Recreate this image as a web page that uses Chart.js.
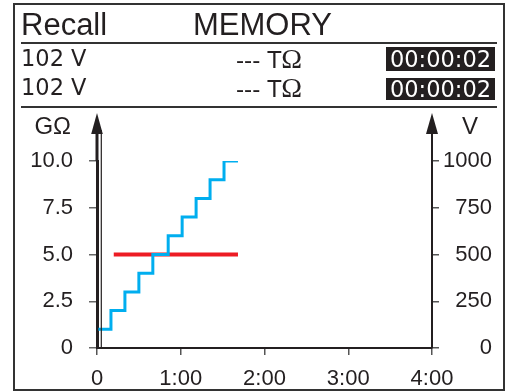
<!DOCTYPE html>
<html>
<head>
<meta charset="utf-8">
<script src="https://cdn.jsdelivr.net/npm/chart.js@4/dist/chart.umd.min.js"></script>
<style>
    html, body {
        margin: 0;
        padding: 0;
        background: #fff;
    }
    #screen {
        position: relative;
        width: 508px;
        height: 392px;
        overflow: hidden;
        color: #231f20;
    }
    #frame {
        position: absolute;
        left: 13px;
        top: 3px;
        width: 492px;
        height: 388px;
        box-sizing: border-box;
        border: 2px solid #333;
    }
    .rule {
        position: absolute;
        left: 21px;
        width: 476px;
        height: 2.5px;
        background: #333;
    }
    .txt {
        position: absolute;
        white-space: nowrap;
        line-height: 1;
    }
    .title {
        font-family: "Liberation Sans", Arial, sans-serif;
        font-size: 31px;
        top: 9px;
    }
    .row {
        font-family: "DejaVu Sans", sans-serif;
        font-size: 22.5px;
    }
    .ohm {
        font-family: "Liberation Serif", serif;
        font-size: 28px;
    }
    .clock {
        position: absolute;
        left: 386px;
        width: 109px;
        background: #231f20;
        color: #fff;
        font-family: "DejaVu Sans", sans-serif;
        font-size: 22.5px;
        text-align: center;
    }
    #chartBox {
        position: absolute;
        left: 0;
        top: 0;
        width: 508px;
        height: 392px;
    }
</style>
</head>
<body>
<div id="screen">
    <div id="chartBox"><canvas id="chart"></canvas></div>
    <div id="frame"></div>

    <div class="txt title" style="left:21px;">Recall</div>
    <div class="txt title" style="left:193px;">MEMORY</div>
    <div class="rule" style="top:41.5px;"></div>

    <div class="txt row" style="left:21px; top:47px;">102 V</div>
    <div class="txt row" style="left:236px; top:45px;">--- T<span class="ohm">Ω</span></div>
    <div class="clock" style="top:47px; height:24px; line-height:24px;">00:00:02</div>

    <div class="txt row" style="left:21px; top:76px;">102 V</div>
    <div class="txt row" style="left:236px; top:74px;">--- T<span class="ohm">Ω</span></div>
    <div class="clock" style="top:78px; height:22px; line-height:22px;">00:00:02</div>

    <div class="rule" style="top:105.5px;"></div>
</div>

<script>
// ==========================
// DATA
// ==========================

// time axis in seconds
const timeTicks = [0, 60, 120, 180, 240];
const resistanceTicks = [0, 2.5, 5, 7.5, 10];
const voltageTicks = [0, 250, 500, 750, 1000];

// insulation resistance (GΩ), stepped
const resistanceTimes = [1, 10, 20, 30, 40, 51, 61, 71, 81, 91, 101];
const resistanceValues = [1, 2, 3, 4, 5, 6, 7, 8, 9, 10, 10];

// test voltage (V)
const voltageTimes = [12, 101];
const voltageValues = [500, 500];

const ink = "#231f20";

Chart.defaults.font.family = "'Liberation Sans', Arial, sans-serif";
Chart.defaults.font.size = 22;
Chart.defaults.color = ink;


// ==========================
// AXIS ARROWS + UNITS
// ==========================

const axisDecor = {
    id: "axisDecor",
    afterDraw(chart) {
        const c = chart.ctx;
        const area = chart.chartArea;
        const tipY = 113;
        const baseY = 134;

        c.save();
        c.fillStyle = ink;
        c.strokeStyle = ink;

        // left axis extension + arrow
        c.lineWidth = 3;
        c.beginPath();
        c.moveTo(area.left, area.top);
        c.lineTo(area.left, baseY - 2);
        c.stroke();

        // thin second line beside the left axis
        c.lineWidth = 1.2;
        c.beginPath();
        c.moveTo(area.left + 4.3, baseY - 4);
        c.lineTo(area.left + 4.3, area.bottom);
        c.stroke();

        c.beginPath();
        c.moveTo(area.left, tipY);
        c.lineTo(area.left - 5.8, baseY);
        c.lineTo(area.left + 5.8, baseY);
        c.closePath();
        c.fill();

        // right axis extension + arrow
        c.lineWidth = 2;
        c.beginPath();
        c.moveTo(area.right, area.top);
        c.lineTo(area.right, baseY - 2);
        c.stroke();

        c.beginPath();
        c.moveTo(area.right, tipY);
        c.lineTo(area.right - 6, baseY);
        c.lineTo(area.right + 6, baseY);
        c.closePath();
        c.fill();

        // units
        c.font = "24px 'Liberation Sans', Arial, sans-serif";
        c.textBaseline = "alphabetic";
        c.textAlign = "right";
        c.fillText("GΩ", area.left - 26, baseY);
        c.textAlign = "left";
        c.fillText("V", area.right + 30, baseY);

        c.restore();
    }
};


// ==========================
// CHART
// ==========================

const ctx = document.getElementById("chart").getContext("2d");

new Chart(ctx, {
    type: "line",
    data: {
        datasets: [
            {
                data: resistanceTimes.map((t, i) => ({ x: t, y: resistanceValues[i] })),
                yAxisID: "y",
                borderColor: "#00aeef",
                borderWidth: 3,
                stepped: "before",
                pointRadius: 0,
                fill: false
            },
            {
                data: voltageTimes.map((t, i) => ({ x: t, y: voltageValues[i] })),
                yAxisID: "y1",
                borderColor: "#ed1c24",
                borderWidth: 4,
                pointRadius: 0,
                fill: false
            }
        ]
    },
    options: {
        responsive: true,
        maintainAspectRatio: false,
        animation: false,
        layout: {
            padding: { left: 30, right: 16, top: 161, bottom: 0 }
        },
        plugins: {
            legend: { display: false },
            tooltip: { enabled: false }
        },
        scales: {
            x: {
                type: "linear",
                min: 0,
                max: 240,
                afterBuildTicks: s => {
                    s.ticks = timeTicks.map(v => ({ value: v }));
                },
                afterFit: s => {
                    s.height = 44;
                },
                grid: {
                    drawOnChartArea: false,
                    tickLength: 7,
                    color: "#555",
                    lineWidth: 1.5
                },
                border: { color: ink, width: 2 },
                ticks: {
                    padding: 11,
                    maxRotation: 0,
                    callback: v => v === 0 ? "0" : (v / 60) + ":00"
                }
            },
            y: {
                position: "left",
                min: 0,
                max: 10,
                afterBuildTicks: s => {
                    s.ticks = resistanceTicks.map(v => ({ value: v }));
                },
                afterFit: s => {
                    s.width = 67;
                },
                grid: {
                    drawOnChartArea: false,
                    tickLength: 8,
                    color: "#666",
                    lineWidth: 1.5
                },
                border: { color: ink, width: 3 },
                ticks: {
                    padding: 16,
                    callback: v => v === 0 ? "0" : v.toFixed(1)
                }
            },
            y1: {
                position: "right",
                min: 0,
                max: 1000,
                afterBuildTicks: s => {
                    s.ticks = voltageTicks.map(v => ({ value: v }));
                },
                afterFit: s => {
                    s.width = 60;
                },
                grid: {
                    drawOnChartArea: false,
                    tickLength: 7,
                    color: "#555",
                    lineWidth: 1.5
                },
                border: { color: ink, width: 2 },
                ticks: {
                    padding: 4,
                    crossAlign: "far",
                    callback: v => String(v)
                }
            }
        }
    },
    plugins: [axisDecor]
});
</script>
</body>
</html>
